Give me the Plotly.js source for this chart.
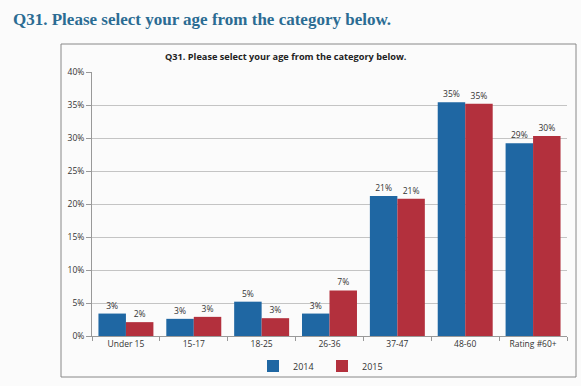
<!DOCTYPE html>
<html>
<head>
<meta charset="utf-8">
<script src="https://cdn.plot.ly/plotly-3.0.1.min.js"></script>
<style>html,body{margin:0;padding:0;background:#fbfbfb;}#chart{width:581px;height:386px;}</style>
</head>
<body>
<div id="chart"></div>
<script>
const categories = ["Under 15", "15-17", "18-25", "26-36", "37-47", "48-60", "Rating #60+"];
const values2014 = [3.4, 2.6, 5.2, 3.4, 21.2, 35.4, 29.2];
const values2015 = [2.1, 2.9, 2.7, 6.9, 20.8, 35.2, 30.3];
const seriesNames = ["2014", "2015"];
const yTicks = [0, 5, 10, 15, 20, 25, 30, 35, 40];

const labelFont = {family: "Open Sans, sans-serif", size: 8.5, color: "#333"};
function bar(name, vals, color) {
  return {
    type: "bar", name: name, x: categories, y: vals,
    marker: {color: color},
    text: vals.map(v => Math.round(v) + "%"),
    textposition: "outside", cliponaxis: false,
    textfont: labelFont,
    hoverinfo: "x+y+name"
  };
}
const data = [
  bar(seriesNames[0], values2014, "#1f67a3"),
  bar(seriesNames[1], values2015, "#b3303d")
];

const W = 581, H = 386, L = 92, R = 14, T = 72, B = 50;
const pw = W - L - R, ph = H - T - B;
const px = x => (x - L) / pw;
const py = y => (H - B - y) / ph;

const layout = {
  width: W, height: H,
  margin: {l: L, r: R, t: T, b: B, pad: 0, autoexpand: false},
  paper_bgcolor: "#fbfbfb", plot_bgcolor: "#fbfbfb",
  barmode: "group", bargap: 0.19, bargroupgap: 0,
  showlegend: true,
  legend: {orientation: "h", xref: "container", yref: "container",
    x: 322 / W, xanchor: "center", y: 1 - 366 / H, yanchor: "middle",
    font: {family: "Open Sans, sans-serif", size: 9, color: "#333"}, itemwidth: 30,
    entrywidth: 24, tracegroupgap: 0,
    bgcolor: "rgba(0,0,0,0)"},
  title: {text: "Q31. Please select your age from the category below.",
    x: 13 / W, xanchor: "left", y: 1 - 19 / H, yanchor: "middle",
    font: {family: "Liberation Serif, DejaVu Serif, serif", size: 17, color: "#2b6c93", weight: "bold"}},
  xaxis: {
    type: "category", tickfont: {family: "Open Sans, sans-serif", size: 8.5, color: "#333"},
    showline: true, linecolor: "#999", linewidth: 1,
    ticks: "outside", tickson: "boundaries", ticklen: 4, tickcolor: "#999",
    showgrid: false, fixedrange: true
  },
  yaxis: {
    range: [0, 40], tickvals: yTicks, ticktext: yTicks.map(v => v + "%"),
    tickfont: {family: "Open Sans, sans-serif", size: 8.5, color: "#333"},
    showline: true, linecolor: "#999", linewidth: 1,
    ticks: "outside", ticklen: 5, tickcolor: "#999",
    showgrid: true, gridcolor: "#c4c4c4", gridwidth: 1,
    zeroline: false, fixedrange: true
  },
  annotations: [{
    text: "<b>Q31. Please select your age from the category below.</b>",
    xref: "paper", yref: "paper", x: px(286), y: py(56), xanchor: "center", yanchor: "middle",
    showarrow: false, font: {family: "Open Sans, sans-serif", size: 9.2, color: "#222"}
  }],
  shapes: [{
    type: "rect", xref: "paper", yref: "paper",
    x0: px(61), x1: px(576), y0: py(377), y1: py(44),
    line: {color: "#888", width: 1}, fillcolor: "rgba(0,0,0,0)", layer: "below"
  }]
};

Plotly.newPlot("chart", data, layout, {displayModeBar: false, staticPlot: true});
</script>
</body>
</html>
